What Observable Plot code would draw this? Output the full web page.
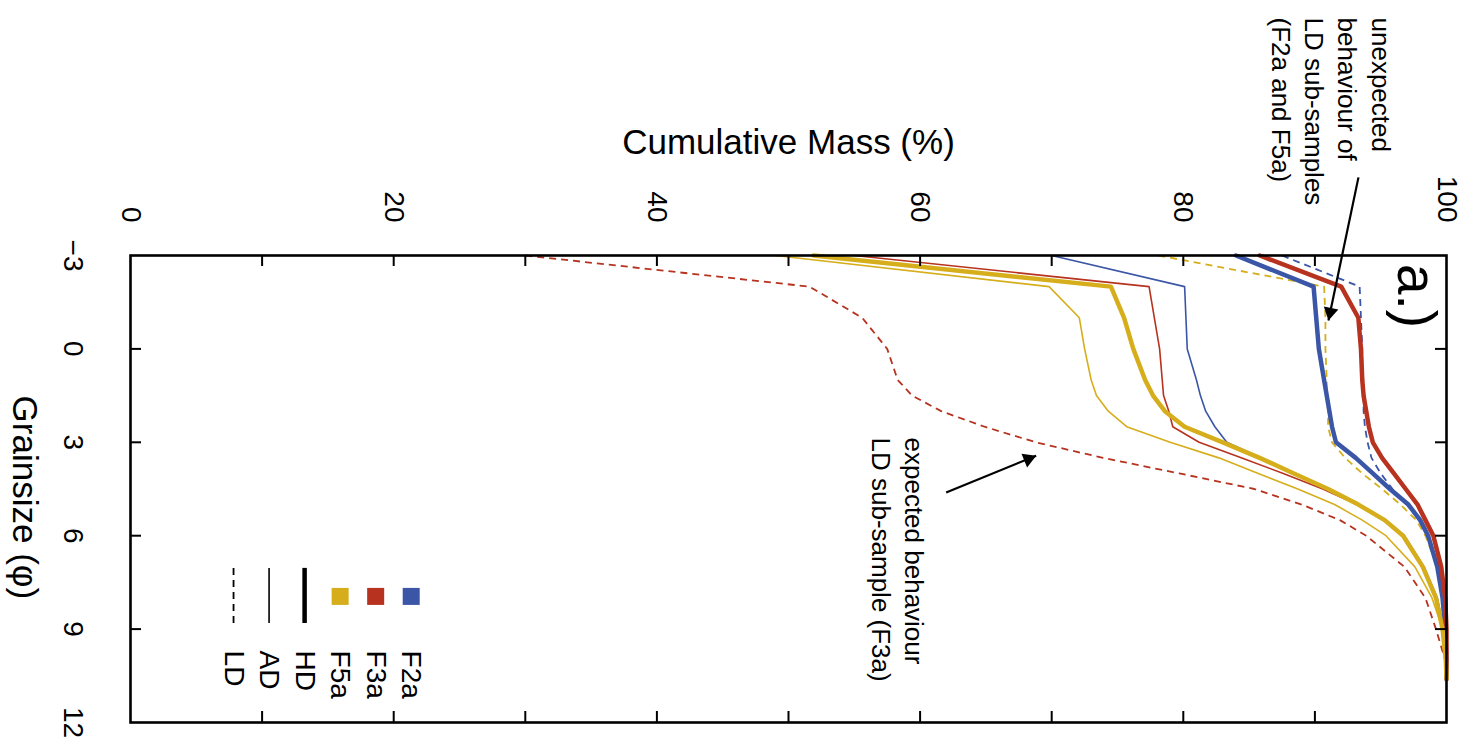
<!DOCTYPE html>
<html>
<head>
<meta charset="utf-8">
<script src="https://cdn.jsdelivr.net/npm/d3@7"></script>
<script src="https://cdn.jsdelivr.net/npm/@observablehq/plot@0.6"></script>
<style>
html, body { margin: 0; padding: 0; background: #fff; }
#chart { width: 1470px; height: 745px; overflow: hidden; }
</style>
</head>
<body>
<div id="chart"></div>
<script>
// ---------------- data ----------------
const grainsize = [-3, -2, -1, 0, 1, 1.5, 2, 2.5, 3, 3.5, 4, 4.5, 5, 5.5, 6, 7, 8, 9, 10, 10.6];

const F2a_HD = [84.0, 89.9, 90.1, 90.3, 90.7, 90.9, 91.1, 91.3, 91.6, 93.1, 94.4, 95.7, 97.1, 98.0, 98.6, 99.3, 99.7, 99.9, 100, 100];
const F2a_AD = [70.0, 80.1, 80.2, 80.3, 81.0, 81.3, 81.7, 82.4, 83.3, 85.9, 88.5, 91.1, 93.4, 95.4, 96.8, 98.3, 99.3, 99.8, 99.95, 100];
const F2a_LD = [87.5, 93.4, 93.5, 93.6, 93.6, 93.7, 93.7, 93.8, 94.0, 94.3, 95.0, 95.9, 97.0, 97.9, 98.6, 99.3, 99.7, 99.9, 100, 100];

const F3a_HD = [85.8, 92.0, 93.3, 93.5, 93.6, 93.7, 93.9, 94.1, 94.4, 95.1, 96.0, 96.9, 97.8, 98.4, 99.0, 99.6, 99.9, 100, 100, 100];
const F3a_AD = [55.0, 77.4, 77.8, 78.2, 78.4, 78.5, 78.9, 79.2, 81.2, 84.4, 87.6, 90.6, 93.2, 95.2, 96.7, 98.2, 99.2, 99.8, 99.95, 100];
const F3a_LD = [30.0, 51.6, 55.6, 57.5, 58.3, 59.4, 61.6, 64.9, 68.8, 73.9, 79.7, 85.4, 89.0, 91.9, 93.9, 96.8, 98.4, 99.2, 99.9, 100];

const F5a_HD = [51.9, 74.5, 75.5, 76.2, 77.1, 77.7, 78.6, 80.1, 83.0, 85.8, 88.4, 91.0, 93.3, 95.3, 96.7, 98.2, 99.2, 99.7, 99.95, 100];
const F5a_AD = [49.0, 69.8, 72.1, 72.5, 73.0, 73.4, 74.3, 75.7, 79.0, 82.7, 85.7, 88.7, 91.5, 93.6, 95.4, 97.6, 98.9, 99.7, 99.95, 100];
const F5a_LD = [78.1, 90.7, 90.8, 90.8, 90.9, 90.9, 91.0, 91.0, 91.3, 92.3, 93.6, 95.1, 96.5, 97.7, 98.4, 99.3, 99.7, 99.9, 100, 100];

const samples = ["F2a", "F3a", "F5a"];
const methods = ["HD", "AD", "LD"];
const sampleColors = ["#3b56a6", "#b7321f", "#d6ae1c"];

const massTickLabels = [0, 20, 40, 60, 80, 100];
const massTicks = [10, 20, 30, 40, 50, 60, 70, 80, 90];
const grainTickLabels = [-3, 0, 3, 6, 9, 12];
const grainTicks = [0, 3, 6, 9];

const xLabel = "Cumulative Mass (%)";
const yLabel = "Grainsize (φ)";
const panelLabel = "a.)";
const note1 = "unexpected\nbehaviour of\nLD sub-samples\n(F2a and F5a)";
const note2 = "expected behaviour\nLD sub-sample (F3a)";
// annotation arrows: start (mass, grainsize) -> tip (mass, grainsize)
const arrows = [
  {m1: 93.31, g1: -5.51, m2: 91.03, g2: -0.91},
  {m1: 61.98, g1: 4.61, m2: 68.82, g2: 3.43}
];

// ---------------- build table ----------------
const series = {
  F2a: {HD: F2a_HD, AD: F2a_AD, LD: F2a_LD},
  F3a: {HD: F3a_HD, AD: F3a_AD, LD: F3a_LD},
  F5a: {HD: F5a_HD, AD: F5a_AD, LD: F5a_LD}
};
const rows = [];
for (const s of samples) for (const m of methods)
  series[s][m].forEach((v, i) => rows.push({sample: s, method: m, grain: grainsize[i], mass: v}));
const byMethod = m => rows.filter(d => d.method === m);

const font = "'Liberation Sans', Arial, Helvetica, sans-serif";
const legendX = i => 21.33 - 2.70 * i;

const chart = Plot.plot({
  width: 1470,
  height: 745,
  marginLeft: 130,
  marginRight: 24,
  marginTop: 255,
  marginBottom: 23,
  x: {domain: [0, 100], axis: null},
  y: {domain: [-3, 12], reverse: true, axis: null},
  color: {domain: samples, range: sampleColors},
  style: {fontFamily: font, background: "#fff", color: "#000", overflow: "visible"},
  marks: [
    // curves
    Plot.line(byMethod("LD"), {x: "mass", y: "grain", z: "sample", stroke: "sample", strokeWidth: 1.8, strokeDasharray: "7,5", strokeLinecap: "butt"}),
    Plot.line(byMethod("AD"), {x: "mass", y: "grain", z: "sample", stroke: "sample", strokeWidth: 1.6}),
    Plot.line(byMethod("HD"), {x: "mass", y: "grain", z: "sample", stroke: "sample", strokeWidth: 4.5}),

    // frame and inward ticks
    Plot.frame({stroke: "#000", strokeWidth: 2.6}),
    Plot.ruleX(massTicks, {x: d => d, y1: -3, y2: -3, insetBottom: -11, stroke: "#000", strokeWidth: 2}),
    Plot.ruleX(massTicks, {x: d => d, y1: 12, y2: 12, insetTop: -11, stroke: "#000", strokeWidth: 2}),
    Plot.ruleY(grainTicks, {y: d => d, x1: 0, x2: 0, insetRight: -11, stroke: "#000", strokeWidth: 2}),
    Plot.ruleY(grainTicks, {y: d => d, x1: 100, x2: 100, insetLeft: -11, stroke: "#000", strokeWidth: 2}),

    // tick labels
    Plot.text(massTickLabels, {x: d => d, y: -3, text: d => String(d), rotate: 90, textAnchor: "end", lineAnchor: "middle", dy: -33, fontSize: 28}),
    Plot.text(grainTickLabels, {x: 0, y: d => d, text: d => d < 0 ? "\u2212" + Math.abs(d) : String(d), rotate: 90, textAnchor: "middle", lineAnchor: "top", dx: -47, fontSize: 28}),

    // axis titles
    Plot.text([xLabel], {x: 50, y: -3, text: d => d, lineAnchor: "bottom", dy: -102, fontSize: 35}),
    Plot.text([yLabel], {x: 0, y: 4.77, text: d => d, rotate: 90, textAnchor: "middle", lineAnchor: "bottom", dx: -118, fontSize: 35}),

    // panel label and notes
    Plot.text([panelLabel], {x: 96.31, y: -2.73, text: d => d, rotate: 90, textAnchor: "start", lineAnchor: "bottom", fontSize: 55}),
    Plot.text([note1], {x: 86.73, y: -3, dy: -238, text: d => d, rotate: 90, textAnchor: "start", lineAnchor: "bottom", fontSize: 26, lineHeight: 1.28}),
    Plot.text([note2], {x: 56.35, y: 2.846, text: d => d, rotate: 90, textAnchor: "start", lineAnchor: "bottom", fontSize: 26, lineHeight: 1.28}),

    // arrows
    Plot.link(arrows, {x1: "m1", y1: "g1", x2: "m2", y2: "g2", stroke: "#000", strokeWidth: 2.2}),
    Plot.dot([arrows[0]], {x: "m2", y: "g2", symbol: "triangle", r: 5.5, fill: "#000", rotate: 191.8, dx: 1.75, dy: -8.4}),
    Plot.dot([arrows[1]], {x: "m2", y: "g2", symbol: "triangle", r: 5.5, fill: "#000", rotate: 67.7, dx: -7.9, dy: 3.25}),

    // legend
    Plot.dot(samples, {x: (d, i) => legendX(i), y: 7.95, fill: d => d, symbol: "square", r: 9.6}),
    Plot.text(samples, {x: (d, i) => legendX(i), y: 9.69, text: d => d, rotate: 90, textAnchor: "start", lineAnchor: "middle", fontSize: 28}),
    Plot.ruleX(["HD"], {x: legendX(3), y1: 7.05, y2: 8.82, stroke: "#000", strokeWidth: 4.5}),
    Plot.ruleX(["AD"], {x: legendX(4), y1: 7.05, y2: 8.82, stroke: "#000", strokeWidth: 1.6}),
    Plot.ruleX(["LD"], {x: legendX(5), y1: 7.05, y2: 8.82, stroke: "#000", strokeWidth: 1.8, strokeDasharray: "7,5"}),
    Plot.text(methods, {x: (d, i) => legendX(i + 3), y: 9.69, text: d => d, rotate: 90, textAnchor: "start", lineAnchor: "middle", fontSize: 28})
  ]
});

document.getElementById("chart").appendChild(chart);
</script>
</body>
</html>
